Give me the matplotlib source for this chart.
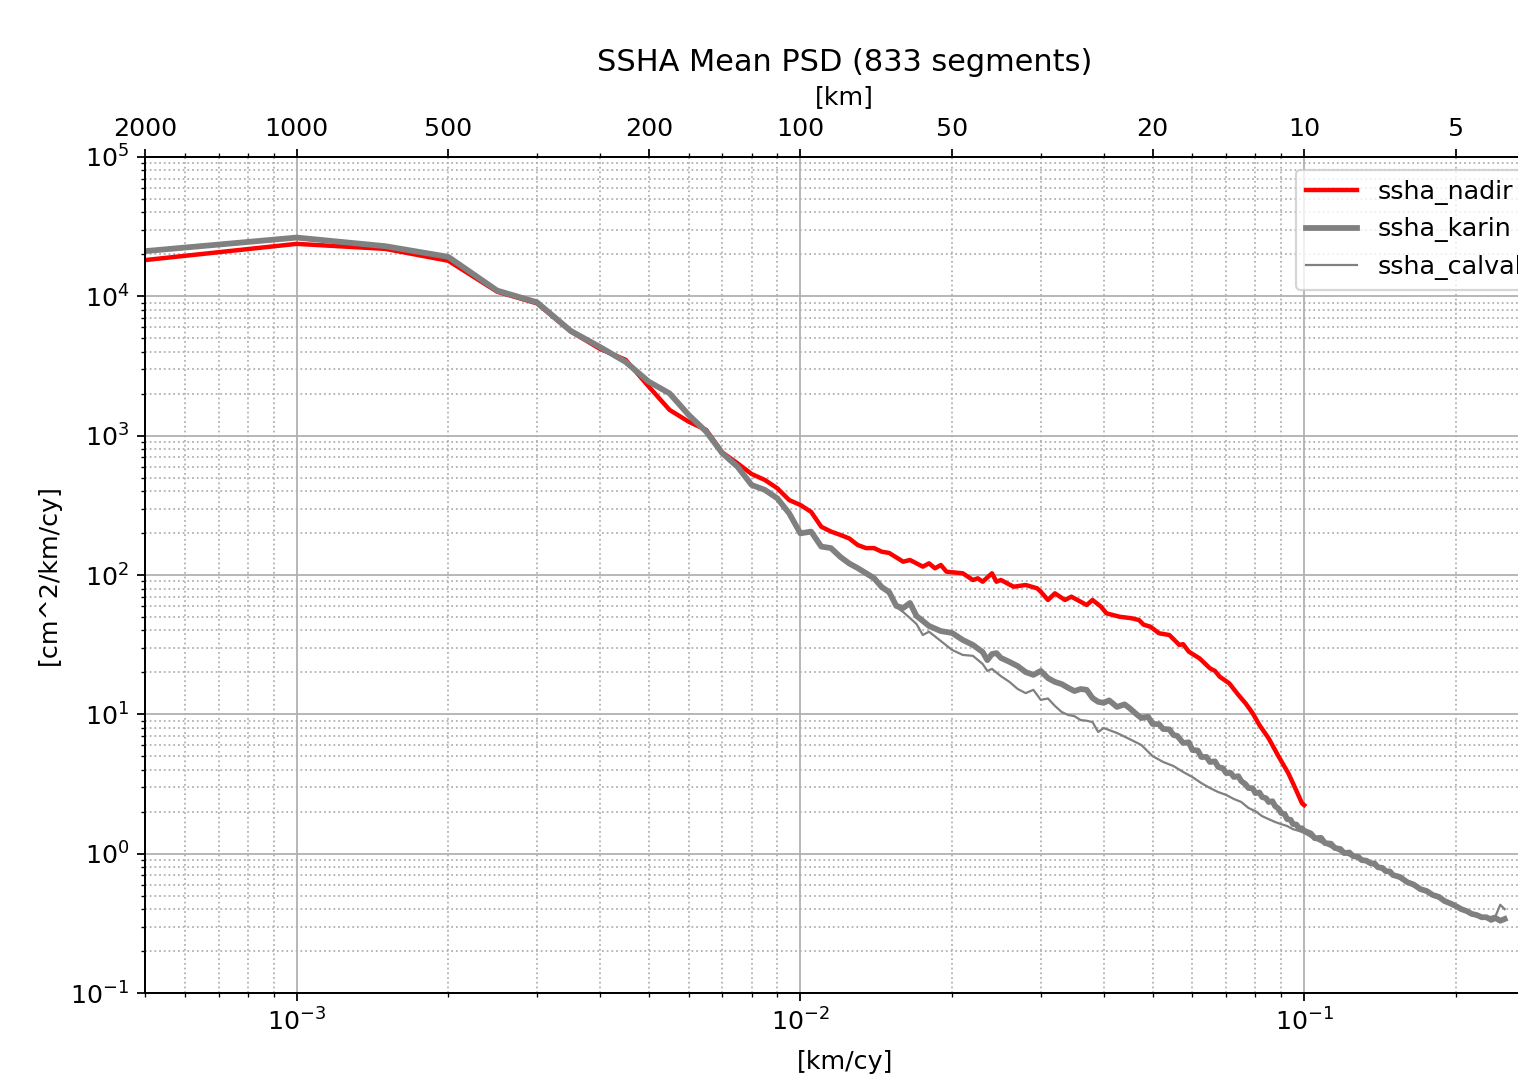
import matplotlib
matplotlib.use("Agg")
import matplotlib.pyplot as plt

plt.rcParams["font.size"] = 11.4
plt.rcParams["axes.titlesize"] = 13.7

# wavenumber [km/cy] and PSD [cm^2/km/cy]
nadir_freq = [0.0005, 0.0010, 0.0015, 0.0020, 0.0025, 0.0030, 0.0035, 0.0040, 0.0045, 0.0050,
              0.0055, 0.0060, 0.0065, 0.0070, 0.0075, 0.0080, 0.0085, 0.0090, 0.0095, 0.0100,
              0.0105, 0.0110, 0.0115, 0.0120, 0.0125, 0.0130, 0.0135, 0.0140, 0.0145, 0.0150,
              0.0160, 0.0165, 0.0175, 0.0180, 0.0185, 0.0190, 0.0195, 0.0210, 0.0220, 0.0225,
              0.0230, 0.0240, 0.0245, 0.0250, 0.0265, 0.0280, 0.0295, 0.0300, 0.0310, 0.0320,
              0.0335, 0.0345, 0.0360, 0.0370, 0.0380, 0.0395, 0.0405, 0.0430, 0.0455, 0.0470,
              0.0480, 0.0495, 0.0515, 0.0540, 0.0565, 0.0575, 0.0590, 0.0620, 0.0650, 0.0665,
              0.0680, 0.0710, 0.0740, 0.0765, 0.0790, 0.0815, 0.0850, 0.0890, 0.0930, 0.0960,
              0.0990, 0.1000]
nadir_psd = [18200, 23800, 21900, 18000, 10800, 8900, 5600, 4200, 3500, 2250,
             1530, 1260, 1100, 757, 634, 531, 481, 419, 345, 318,
             284, 222, 205, 194, 183, 164, 156, 156, 147, 144,
             124.6, 128.2, 114.8, 121.3, 111.7, 118.0, 105.6, 102.9, 92.1, 94.7,
             89.5, 102.9, 89.5, 92.1, 82.4, 84.8, 80.3, 75.9, 66.2, 73.9,
             66.2, 69.9, 64.3, 60.9, 66.2, 59.3, 53.1, 50.2, 48.9, 47.5,
             44.0, 42.6, 38.2, 37.1, 31.5, 31.9, 28.2, 25.2, 21.4, 20.5,
             18.6, 16.7, 13.8, 12.0, 10.2, 8.38, 6.73, 4.97, 3.78, 2.95,
             2.30, 2.23]

karin_freq = [0.0005, 0.0010, 0.0015, 0.0020, 0.0025, 0.0030, 0.0035, 0.0040, 0.0045, 0.0050,
              0.0055, 0.0060, 0.0065, 0.0070, 0.0075, 0.0080, 0.0085, 0.0090, 0.0095, 0.0100,
              0.0105, 0.0110, 0.0115, 0.0120, 0.0125, 0.0130, 0.0135, 0.0140, 0.0145, 0.0150,
              0.0155, 0.0160, 0.0165, 0.0170, 0.0175, 0.0180, 0.0190, 0.0200, 0.0210, 0.0220,
              0.0230, 0.0235, 0.0240, 0.0245, 0.0250, 0.0260, 0.0270, 0.0280, 0.0290, 0.0300,
              0.0310, 0.0320, 0.0330, 0.0340, 0.0350, 0.0360, 0.0370, 0.0380, 0.0390, 0.0400,
              0.0410, 0.0425, 0.0440, 0.0450, 0.0465, 0.0475, 0.0490, 0.0500, 0.0515, 0.0525,
              0.0540, 0.0550, 0.0560, 0.0575, 0.0590, 0.0600, 0.0615, 0.0625, 0.0640, 0.0650,
              0.0665, 0.0675, 0.0690, 0.0700, 0.0715, 0.0725, 0.0740, 0.0750, 0.0765, 0.0775,
              0.0790, 0.0800, 0.0815, 0.0825, 0.0840, 0.0850, 0.0865, 0.0875, 0.0890, 0.0900,
              0.0915, 0.0925, 0.0940, 0.0950, 0.0965, 0.0975, 0.0990, 0.1000, 0.1030, 0.1050,
              0.1080, 0.1100, 0.1130, 0.1150, 0.1180, 0.1200, 0.1230, 0.1250, 0.1280, 0.1300,
              0.1330, 0.1350, 0.1380, 0.1400, 0.1430, 0.1450, 0.1480, 0.1500, 0.1550, 0.1600,
              0.1650, 0.1700, 0.1750, 0.1800, 0.1850, 0.1900, 0.1950, 0.2000, 0.2050, 0.2100,
              0.2150, 0.2200, 0.2250, 0.2300, 0.2350, 0.2400, 0.2450, 0.2500]
karin_psd = [21100, 26400, 22900, 19200, 11000, 9060, 5650, 4330, 3380, 2440,
             2010, 1410, 1070, 747, 599, 443, 408, 355, 277, 199,
             205, 160, 156, 135, 121, 112, 103, 95, 82, 75.5,
             60, 58, 63, 50.8, 46.8, 43.1, 39.6, 38.4, 34.2, 31.5,
             28.0, 24.5, 27.1, 27.5, 25.4, 23.8, 22.2, 20.1, 19.2, 20.5,
             18.2, 17.1, 16.5, 15.5, 14.7, 15.2, 15.0, 13.1, 12.3, 12.1,
             12.6, 11.3, 11.8, 11.1, 10.0, 9.41, 9.6, 8.53, 8.5, 7.85,
             7.8, 7.11, 7.0, 6.23, 6.3, 5.55, 5.5, 4.94, 4.95, 4.55,
             4.6, 4.19, 4.1, 3.79, 3.8, 3.55, 3.6, 3.32, 3.15, 2.96,
             2.95, 2.72, 2.75, 2.55, 2.5, 2.35, 2.38, 2.20, 2.1, 1.96,
             1.92, 1.77, 1.75, 1.63, 1.62, 1.53, 1.52, 1.46, 1.40, 1.29,
             1.30, 1.19, 1.18, 1.10, 1.08, 1.01, 1.02, 0.96, 0.95, 0.90,
             0.89, 0.857, 0.85, 0.80, 0.79, 0.751, 0.745, 0.703, 0.68, 0.626,
             0.60, 0.557, 0.54, 0.505, 0.49, 0.457, 0.44, 0.421, 0.40, 0.388,
             0.37, 0.363, 0.35, 0.35, 0.335, 0.345, 0.33, 0.34]

calval_freq = [0.0005, 0.0010, 0.0015, 0.0020, 0.0025, 0.0030, 0.0035, 0.0040, 0.0045, 0.0050,
               0.0055, 0.0060, 0.0065, 0.0070, 0.0075, 0.0080, 0.0085, 0.0090, 0.0095, 0.0100,
               0.0105, 0.0110, 0.0115, 0.0120, 0.0125, 0.0130, 0.0135, 0.0140, 0.0145, 0.0150,
               0.0155, 0.0160, 0.0165, 0.0170, 0.0175, 0.0180, 0.0190, 0.0200, 0.0210, 0.0220,
               0.0230, 0.0235, 0.0240, 0.0250, 0.0260, 0.0270, 0.0280, 0.0290, 0.0300, 0.0310,
               0.0320, 0.0330, 0.0340, 0.0350, 0.0360, 0.0370, 0.0380, 0.0390, 0.0400, 0.0425,
               0.0450, 0.0475, 0.0500, 0.0525, 0.0550, 0.0575, 0.0600, 0.0625, 0.0650, 0.0675,
               0.0700, 0.0725, 0.0750, 0.0775, 0.0800, 0.0825, 0.0850, 0.0875, 0.0900, 0.0925,
               0.0950, 0.0975, 0.1000, 0.1050, 0.1100, 0.1150, 0.1200, 0.1250, 0.1300, 0.1350,
               0.1400, 0.1450, 0.1500, 0.1600, 0.1700, 0.1800, 0.1900, 0.2000, 0.2100, 0.2200,
               0.2300, 0.2400, 0.2450, 0.2500]
calval_psd = [21000, 26300, 22800, 19100, 11000, 9000, 5650, 4300, 3380, 2430,
              2000, 1400, 1070, 745, 598, 442, 405, 352, 275, 200,
              203, 158, 154, 133, 119, 110, 100, 92, 80, 73,
              58.9, 54.2, 49.1, 44.5, 37.1, 39.2, 33.6, 29.0, 26.7, 26.3,
              23.0, 20.5, 21.2, 18.8, 17.1, 15.2, 14.2, 15.0, 12.7, 13.0,
              11.5, 10.4, 9.9, 9.7, 9.1, 9.0, 8.8, 7.47, 7.98, 7.35,
              6.65, 6.03, 5.02, 4.55, 4.26, 3.86, 3.55, 3.21, 2.96, 2.77,
              2.64, 2.47, 2.35, 2.13, 2.02, 1.86, 1.77, 1.69, 1.63, 1.58,
              1.50, 1.46, 1.41, 1.27, 1.17, 1.08, 1.00, 0.95, 0.89, 0.85,
              0.79, 0.745, 0.70, 0.62, 0.55, 0.50, 0.455, 0.415, 0.385, 0.36,
              0.345, 0.36, 0.43, 0.40]

km_ticks = [2000, 1000, 500, 200, 100, 50, 20, 10, 5]

fig = plt.figure(figsize=(1518 / 160, 1076 / 160), dpi=160)
ax = fig.add_axes([0.0955, 0.0771, 0.922, 0.777])

ax.loglog(nadir_freq, nadir_psd, color="red", lw=2, label="ssha_nadir")
ax.loglog(karin_freq, karin_psd, color="gray", lw=2.6, label="ssha_karin")
ax.loglog(calval_freq, calval_psd, color="gray", lw=1, label="ssha_calval")

ax.set_xlim(1 / 2000, 0.3)
ax.set_ylim(1e-1, 1e5)
ax.grid(True, which="major", color="#b0b0b0", lw=0.8)
ax.grid(True, which="minor", color="#b0b0b0", lw=0.8, ls=":")
ax.set_xlabel("[km/cy]", labelpad=6.5)
ax.set_ylabel("[cm^2/km/cy]")
ax.legend(loc="upper right")

# top axis in wavelength
ax2 = ax.twiny()
ax2.set_xscale("log")
ax2.set_xlim(ax.get_xlim())
ax2.set_xticks([1 / k for k in km_ticks])
ax2.set_xticklabels([str(k) for k in km_ticks])
ax2.set_xlabel("[km]", labelpad=6)

ax.set_title("SSHA Mean PSD (833 segments)", pad=6.5)

fig.savefig("out.png", dpi=160)
